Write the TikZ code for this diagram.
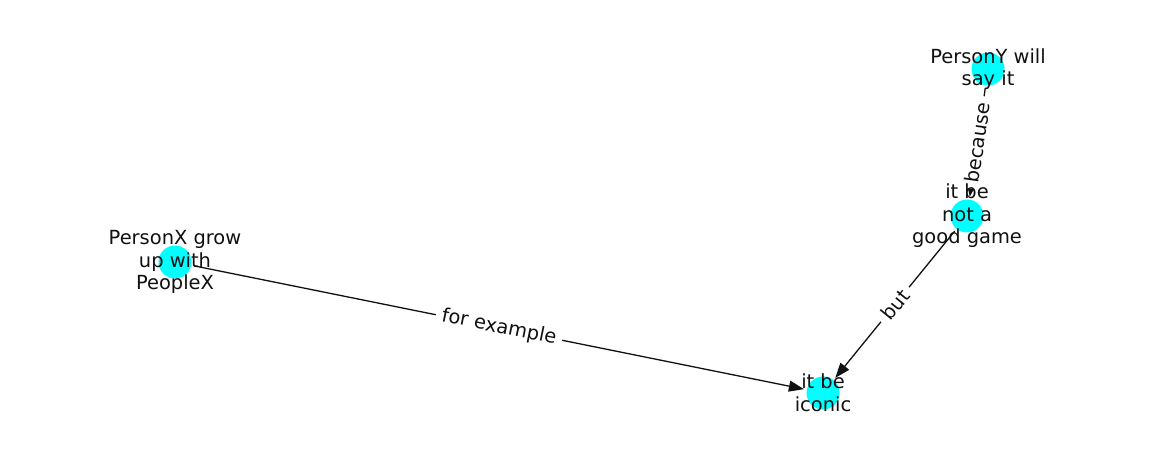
\documentclass[tikz,border=0pt]{standalone}
\usepackage{fontspec}
\setmainfont{DejaVu Sans}
\usetikzlibrary{arrows.meta}
\definecolor{nodecyan}{HTML}{00FFFF}
\definecolor{inkc}{HTML}{111111}
\begin{document}
\begin{tikzpicture}[x=1pt,y=-1pt,
  dot/.style={circle,fill=nodecyan,draw=none,minimum size=33pt,inner sep=0pt,outer sep=3pt},
  lbl/.style={font=\fontsize{19.44}{22.6}\selectfont,align=center,text=inkc,inner sep=0pt},
  edge/.style={draw=inkc,line width=1.3pt,-{Triangle[length=15pt,width=11pt]}},
  elab/.style={fill=white,inner xsep=6pt,inner ysep=2pt,sloped,pos=0.5,font=\fontsize{19.44}{22.6}\selectfont,text=inkc}]
\useasboundingbox (0,0) rectangle (1162,462);
\fill[white] (0,0) rectangle (1162,462);
\node[dot] (px) at (175,262) {};
\node[dot] (py) at (988,69) {};
\node[dot] (ng) at (967,216) {};
\node[dot] (ic) at (823,393) {};
\draw[edge] (px) -- node[elab] {for example} (ic);
\draw[edge] (py) -- node[elab] {because} (ng);
\draw[edge] (ng) -- node[elab] {but} (ic);
\node[lbl] (tpx) at (px.center) {PersonX grow\\up with\\PeopleX};
\node[lbl] (tpy) at (py.center) {PersonY will\\say it};
\node[lbl] (tng) at (ng.center) {it be\\not a\\good game};
\node[lbl] (tic) at (ic.center) {it be\\iconic};
\end{tikzpicture}
\end{document}
